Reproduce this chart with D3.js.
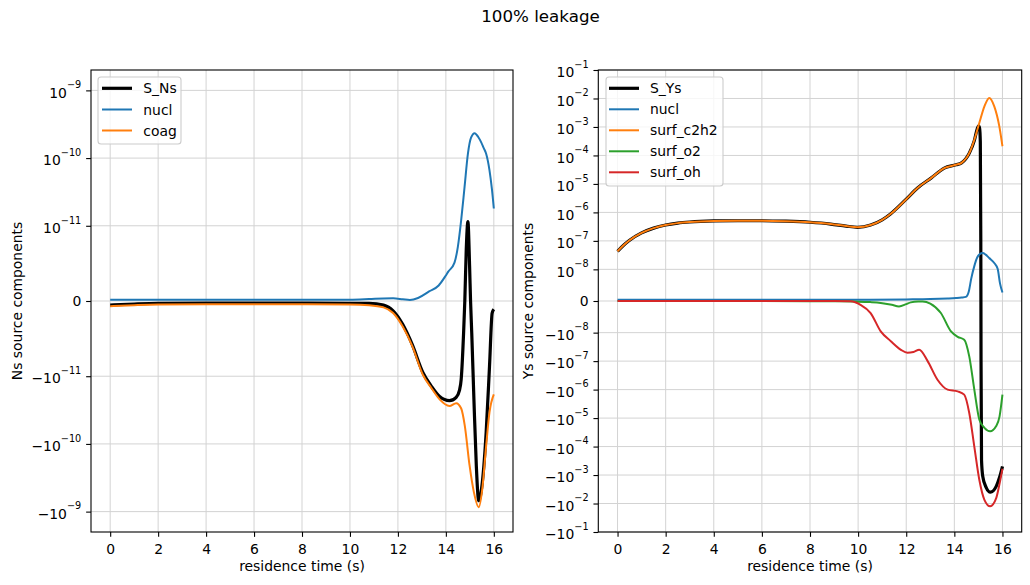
<!DOCTYPE html>
<html><head><meta charset="utf-8">
<script src="https://cdn.jsdelivr.net/npm/d3@7/dist/d3.min.js"></script>
<style>body{margin:0;background:#fff}svg{font-family:"DejaVu Sans",sans-serif}</style>
</head><body><svg id="c" width="1030" height="585"></svg>
<script>
// ---------------- data ----------------
const title = "100% leakage";
const xTicks = [0, 2, 4, 6, 8, 10, 12, 14, 16];
const xLabel = "residence time (s)";

// Left panel (Ns)
const nsYTicks = [1e-9, 1e-10, 1e-11, 0, -1e-11, -1e-10, -1e-9];
const nsYLabel = "Ns source components";
const nsNames = ["S_Ns", "nucl", "coag"];

const tSNs = [0, 1, 2, 4, 6, 8, 10, 10.8, 11.4, 11.8, 12.2, 12.6, 13.04, 13.39, 13.74, 14.15, 14.43, 14.57, 14.64, 14.74, 14.79, 14.85, 14.92, 14.99, 15.03, 15.08, 15.17, 15.27, 15.37, 15.52, 15.68, 15.82, 15.93, 16.0];
const vSNs = [-5.5e-13, -4e-13, -3e-13, -2.7e-13, -2.7e-13, -2.8e-13, -3e-13, -3.2e-13, -5.5e-13, -1.3e-12, -3.1e-12, -5.8e-12, -9.5e-12, -1.4e-11, -2.0e-11, -2.3e-11, -2.05e-11, -1.6e-11, -1.1e-11, -4.2e-12, 0, 6.8e-12, 1.15e-11, 4.6e-12, 0, -4.3e-12, -2.2e-11, -2.1e-10, -6.9e-10, -3.7e-10, -6.8e-11, -8.7e-12, -1.6e-12, -1.1e-12];

const tNuclNs = [0, 2, 4, 6, 8, 10, 10.8, 11.4, 11.8, 12.2, 12.5, 12.84, 13.3, 13.7, 14.0, 14.1, 14.36, 14.5, 14.64, 14.78, 14.92, 15.05, 15.2, 15.35, 15.47, 15.58, 15.68, 15.82, 15.92, 16.0];
const vNuclNs = [1.5e-13, 1.6e-13, 1.6e-13, 1.6e-13, 1.6e-13, 1.7e-13, 2.5e-13, 3.3e-13, 3.5e-13, 2.3e-13, 1.3e-13, 4e-13, 1.27e-12, 2.06e-12, 3.4e-12, 3.9e-12, 5.1e-12, 7.2e-12, 1.22e-11, 3.75e-11, 1.16e-10, 2.0e-10, 2.33e-10, 2.05e-10, 1.72e-10, 1.4e-10, 1.16e-10, 6.6e-11, 3.5e-11, 1.8e-11];

const tCoag = [0, 1, 2, 4, 6, 8, 10, 10.8, 11.4, 11.8, 12.2, 12.6, 13.04, 13.39, 13.74, 14.15, 14.43, 14.64, 14.79, 14.99, 15.17, 15.37, 15.52, 15.68, 15.82, 16.0];
const vCoag = [-7e-13, -5.5e-13, -4.5e-13, -4.2e-13, -4.2e-13, -4.3e-13, -4.6e-13, -5.5e-13, -8.5e-13, -1.6e-12, -3.4e-12, -6e-12, -9.8e-12, -1.48e-11, -2.2e-11, -2.75e-11, -2.5e-11, -3.0e-11, -5.4e-11, -2.1e-10, -5.2e-10, -8.6e-10, -4.6e-10, -1.07e-10, -3.4e-11, -1.85e-11];

// Right panel (Ys)
const ysYTicks = [1e-1, 1e-2, 1e-3, 1e-4, 1e-5, 1e-6, 1e-7, 1e-8, 0, -1e-8, -1e-7, -1e-6, -1e-5, -1e-4, -1e-3, -1e-2, -1e-1];
const ysYLabel = "Ys source components";
const ysNames = ["S_Ys", "nucl", "surf_c2h2", "surf_o2", "surf_oh"];

const tSYs = [0, 0.25, 0.5, 1, 1.5, 2, 2.5, 3, 4, 5, 6, 7, 8, 8.86, 9.5, 9.97, 10.52, 11, 11.36, 11.98, 12.47, 13.03, 13.58, 14.07, 14.3, 14.62, 14.83, 14.95, 15.01, 15.05, 15.08, 15.10, 15.11, 15.13, 15.18, 15.32, 15.5, 15.74, 15.88, 16.0];
const vSYs = [4.3e-8, 7e-8, 1.05e-7, 1.9e-7, 2.8e-7, 3.6e-7, 4.2e-7, 4.6e-7, 5e-7, 5.1e-7, 5.1e-7, 4.9e-7, 4.5e-7, 3.9e-7, 3.3e-7, 3e-7, 3.6e-7, 5.5e-7, 9e-7, 2.8e-6, 7.2e-6, 1.6e-5, 3.6e-5, 4.7e-5, 5.5e-5, 1.2e-4, 3.3e-4, 8.5e-4, 1.1e-3, 9e-4, 3e-4, 1e-7, -1e-7, -3e-4, -1.1e-3, -2.7e-3, -4e-3, -2.5e-3, -1.2e-3, -5e-4];

const tNuclYs = [0, 2, 4, 6, 8, 10, 12, 13, 13.72, 14.07, 14.3, 14.48, 14.6, 14.7, 14.83, 14.95, 15.05, 15.18, 15.3, 15.45, 15.66, 15.8, 15.9, 16.0];
const vNuclYs = [4e-10, 4e-10, 4e-10, 4e-10, 4e-10, 4e-10, 5e-10, 6e-10, 8e-10, 9.5e-10, 1.1e-9, 1.3e-9, 3e-9, 7e-9, 1.3e-8, 2.6e-8, 3.4e-8, 3.75e-8, 3.3e-8, 2.5e-8, 1.67e-8, 1.05e-8, 5.5e-9, 2.7e-9];

const tC2h2 = [0, 0.25, 0.5, 1, 1.5, 2, 2.5, 3, 4, 5, 6, 7, 8, 8.86, 9.5, 9.97, 10.52, 11, 11.36, 11.98, 12.47, 13.03, 13.58, 14.07, 14.3, 14.62, 14.83, 15.04, 15.25, 15.45, 15.66, 15.87, 16.0];
const vC2h2 = [4.3e-8, 7e-8, 1.05e-7, 1.9e-7, 2.8e-7, 3.6e-7, 4.2e-7, 4.6e-7, 5e-7, 5.1e-7, 5.1e-7, 4.9e-7, 4.5e-7, 3.9e-7, 3.3e-7, 3e-7, 3.6e-7, 5.5e-7, 9e-7, 2.8e-6, 7.2e-6, 1.6e-5, 3.6e-5, 4.7e-5, 5.5e-5, 1.2e-4, 3.5e-4, 1.4e-3, 5.3e-3, 1.05e-2, 5.3e-3, 1.05e-3, 2.1e-4];

const tO2 = [0, 4, 8, 9, 10, 10.5, 10.94, 11.4, 11.7, 12.0, 12.19, 12.5, 12.68, 13.0, 13.44, 13.86, 14.14, 14.41, 14.62, 14.83, 15.04, 15.25, 15.49, 15.74, 15.88, 16.0];
const vO2 = [0, 0, -5e-11, -1e-10, -2e-10, -3.5e-10, -6e-10, -1.2e-9, -1.7e-9, -1.0e-9, -4.4e-10, -1.5e-10, -1.3e-10, -8e-10, -3.8e-9, -9.6e-9, -1.4e-8, -1.77e-8, -6.8e-8, -1e-6, -1.14e-5, -2.2e-5, -2.9e-5, -1.9e-5, -8.7e-6, -1.5e-6];

const tOh = [0, 4, 8, 9, 9.69, 10.1, 10.52, 10.94, 11.36, 11.78, 12.05, 12.3, 12.54, 12.89, 13.3, 13.72, 14.14, 14.41, 14.62, 14.83, 15.04, 15.25, 15.49, 15.74, 15.88, 16.0];
const vOh = [0, 0, 0, -2e-11, -1e-10, -1.2e-9, -3.8e-9, -9.6e-9, -2e-8, -4e-8, -5.1e-8, -4.8e-8, -4e-8, -1e-7, -4.5e-7, -1e-6, -1.15e-6, -1.5e-6, -6.6e-6, -1e-4, -1.5e-3, -7.4e-3, -1.25e-2, -6.5e-3, -2e-3, -6e-4];

const colors = ["#000000", "#1f77b4", "#ff7f0e", "#2ca02c", "#d62728"];

// ---------------- helpers ----------------
function symlog(lt) {
  const a = 1 / (1 - 1 / 10);
  return v => { const av = Math.abs(v); return av <= lt ? v / lt * a : Math.sign(v) * (a + Math.log10(av / lt)); };
}
const zip = (t, v) => t.map((d, i) => [d, v[i]]);
const MINUS = "\u2212";

const svg = d3.select("#c");
svg.append("rect").attr("width", 1030).attr("height", 585).attr("fill", "#fff");
svg.append("text").attr("x", 540.5).attr("y", 22).attr("text-anchor", "middle")
  .attr("font-size", 16.7).text(title);

const panels = [
  { x0: 91, x1: 513, lt: 1e-11, lim: 2e-9, yTicks: nsYTicks, yLabel: nsYLabel, yLabelX: 21.7,
    series: [zip(tSNs, vSNs), zip(tNuclNs, vNuclNs), zip(tCoag, vCoag)],
    names: nsNames, cols: [colors[0], colors[1], colors[2]],
    legend: { x: 98, y: 77, w: 83, h: 67, rows: [88.3, 109.5, 130.5], lx0: 102, lx1: 132, tx: 143.3 } },
  { x0: 598.3, x1: 1021.7, lt: 1e-8, lim: 1e-1, yTicks: ysYTicks, yLabel: ysYLabel, yLabelX: 533,
    series: [zip(tSYs, vSYs), zip(tNuclYs, vNuclYs), zip(tC2h2, vC2h2), zip(tO2, vO2), zip(tOh, vOh)],
    names: ysNames, cols: colors,
    legend: { x: 606, y: 77, w: 117, h: 109, rows: [88.3, 109.3, 130.3, 151.3, 172.3], lx0: 609, lx1: 639, tx: 650 } }
];
const yTop = 70, yBot = 532;

panels.forEach((p, pi) => {
  const T = symlog(p.lt);
  const x = d3.scaleLinear().domain([-0.8, 16.8]).range([p.x0, p.x1]);
  const yT = d3.scaleLinear().domain([T(-p.lim), T(p.lim)]).range([yBot, yTop]);
  const y = v => yT(T(v));
  const g = svg.append("g");

  // grid
  g.append("g").selectAll("line").data(xTicks).join("line")
    .attr("x1", d => x(d)).attr("x2", d => x(d)).attr("y1", yTop).attr("y2", yBot)
    .attr("stroke", "#d3d3d3").attr("stroke-width", 1);
  g.append("g").selectAll("line").data(p.yTicks).join("line")
    .attr("x1", p.x0).attr("x2", p.x1).attr("y1", d => y(d)).attr("y2", d => y(d))
    .attr("stroke", "#d3d3d3").attr("stroke-width", 1);

  // clip
  const cid = "clip" + pi;
  svg.append("clipPath").attr("id", cid).append("rect")
    .attr("x", p.x0).attr("y", yTop).attr("width", p.x1 - p.x0).attr("height", yBot - yTop);

  const line = d3.line().x(d => x(d[0])).y(d => y(d[1])).curve(d3.curveMonotoneX);
  const lg = g.append("g").attr("clip-path", `url(#${cid})`);
  p.series.forEach((s, i) => {
    lg.append("path").datum(s).attr("d", line).attr("fill", "none")
      .attr("stroke", p.cols[i]).attr("stroke-width", i === 0 ? 3.2 : 2)
      .attr("stroke-linejoin", "round").attr("stroke-linecap", "butt");
  });

  // x axis
  const xa = g.append("g").attr("transform", `translate(0,${yBot})`)
    .call(d3.axisBottom(x).tickValues(xTicks).tickSize(4.86).tickPadding(4.9).tickSizeOuter(0));
  xa.select(".domain").remove();
  xa.attr("font-size", null).attr("font-family", null);
  xa.selectAll(".tick line").attr("stroke-width", 1.1);
  xa.selectAll(".tick text").attr("font-size", 13.9).attr("dy", null).attr("y", 21.5);

  // y axis
  const ya = g.append("g").attr("transform", `translate(${p.x0},0)`)
    .call(d3.axisLeft(yT).tickValues(p.yTicks.map(T)).tickSize(4.86).tickPadding(4.9).tickSizeOuter(0).tickFormat(() => ""));
  ya.select(".domain").remove();
  ya.attr("font-size", null).attr("font-family", null);
  ya.selectAll(".tick line").attr("stroke-width", 1.1);
  ya.selectAll(".tick text").each(function (d, i) {
    const v = p.yTicks[i];
    const t = d3.select(this).attr("dy", null).attr("font-size", 13.9);
    if (v === 0) { t.attr("y", 4.7).text("0"); return; }
    const e = Math.round(Math.log10(Math.abs(v)));
    t.attr("y", 6.7);
    t.append("tspan").text((v < 0 ? MINUS : "") + "10");
    t.append("tspan").attr("font-size", 9.7).attr("dy", -9.4).text(MINUS + Math.abs(e));
  });

  // frame
  g.append("rect").attr("x", p.x0).attr("y", yTop).attr("width", p.x1 - p.x0).attr("height", yBot - yTop)
    .attr("fill", "none").attr("stroke", "#000").attr("stroke-width", 1.1);

  // labels
  g.append("text").attr("x", (p.x0 + p.x1) / 2).attr("y", 571).attr("text-anchor", "middle")
    .attr("font-size", 13.9).text(xLabel);
  g.append("text").attr("transform", `translate(${p.yLabelX},${(yTop + yBot) / 2}) rotate(-90)`)
    .attr("text-anchor", "middle").attr("font-size", 13.9).text(p.yLabel);

  // legend
  const L = p.legend;
  const leg = g.append("g");
  leg.append("rect").attr("x", L.x).attr("y", L.y).attr("width", L.w).attr("height", L.h)
    .attr("rx", 3).attr("fill", "#fff").attr("fill-opacity", 0.8).attr("stroke", "#cccccc").attr("stroke-width", 1.1);
  p.names.forEach((n, i) => {
    leg.append("line").attr("x1", L.lx0).attr("x2", L.lx1).attr("y1", L.rows[i]).attr("y2", L.rows[i])
      .attr("stroke", p.cols[i]).attr("stroke-width", i === 0 ? 3.2 : 2);
    leg.append("text").attr("x", L.tx).attr("y", L.rows[i] + 5).attr("font-size", 13.9).text(n);
  });
});
</script></body></html>
